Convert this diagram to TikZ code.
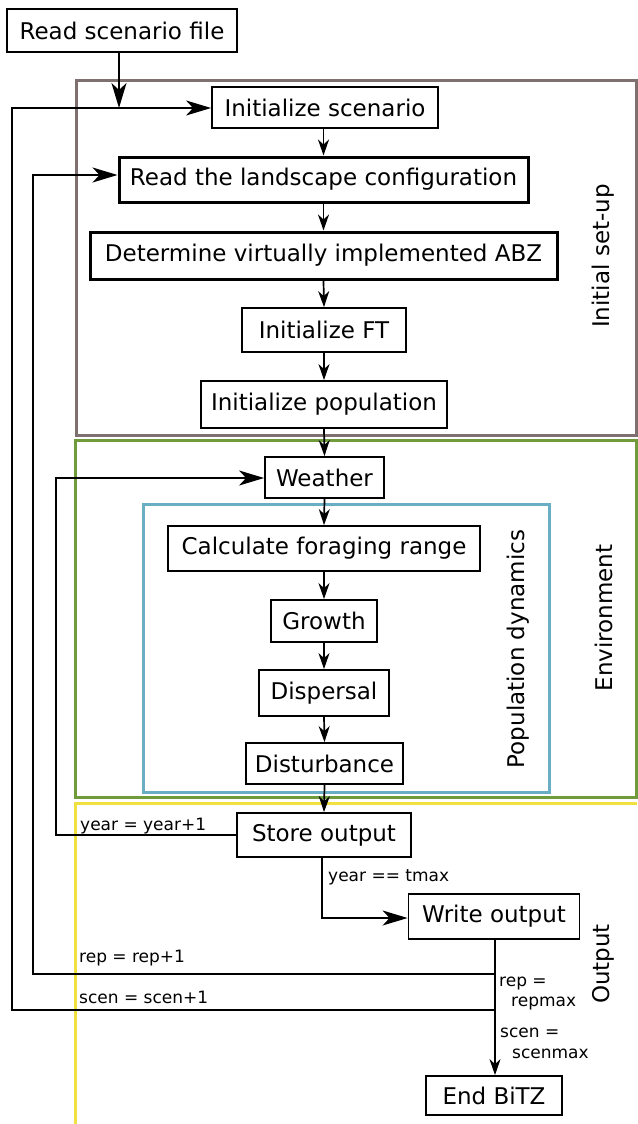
\documentclass[tikz,border=0pt]{standalone}
\usepackage{fontspec}
\setmainfont{DejaVu Sans}
\usetikzlibrary{arrows.meta,calc}
\definecolor{setupc}{HTML}{7F7070}
\definecolor{envc}{HTML}{6F9B3A}
\definecolor{outc}{HTML}{F0E040}
\definecolor{popc}{HTML}{6AAEC4}
\begin{document}
\begin{tikzpicture}[x=1pt,y=-1pt,
  stepbox/.style={draw,line width=1.8pt,inner sep=0pt,font=\fontsize{23}{27}\selectfont},
  thickbox/.style={stepbox,line width=3pt},
  region/.style={line width=3pt},
  lbl/.style={inner sep=0pt,font=\fontsize{17}{20}\selectfont},
  rlbl/.style={inner sep=0pt,rotate=90,font=\fontsize{23}{27}\selectfont},
  conn/.style={line width=1.7pt,line join=miter},
  bigarr/.style={conn,-{Stealth[length=25pt,width=15pt,inset=7pt]}},
  smallarr/.style={conn,-{Stealth[length=16pt,width=11pt,inset=5pt]}}]
\useasboundingbox (0,0) rectangle (637,1124);
\fill[white] (0,0) rectangle (637,1124);
% regions
\draw[region,setupc] (76,80) rectangle (636,435);
\draw[region,envc] (75,440) rectangle (636,797);
\draw[region,outc] (637,803) -- (75,803) -- (75,1130);
\draw[region,popc] (143,504) rectangle (549,792);
% region labels
\node[rlbl] (lsetup) at (603,256) {Initial set-up};
\node[rlbl] (lpop) at (518,649) {Population dynamics};
\node[rlbl] (lenv) at (604,618) {Environment};
\node[rlbl] (lout) at (603,964) {Output};
% nodes
\node[stepbox,minimum width=230pt,minimum height=43pt] (rsf) at (122,30.5) {Read scenario file};
\node[stepbox,minimum width=226pt,minimum height=41pt] (isc) at (325,107.5) {Initialize scenario};
\node[thickbox,minimum width=409pt,minimum height=45pt] (rlc) at (323.5,179.5) {Read the landscape configuration};
\node[thickbox,minimum width=467pt,minimum height=47pt] (dvi) at (323.5,255.5) {Determine virtually implemented ABZ};
\node[stepbox,minimum width=164pt,minimum height=44pt] (ift) at (324,330) {Initialize FT};
\node[stepbox,minimum width=246pt,minimum height=47pt] (ipo) at (324,404.5) {Initialize population};
\node[stepbox,minimum width=119pt,minimum height=41pt] (wea) at (324.5,477.5) {Weather};
\node[stepbox,minimum width=312pt,minimum height=45pt] (cfr) at (324,548.5) {Calculate foraging range};
\node[stepbox,minimum width=106pt,minimum height=42pt] (gro) at (324,621) {Growth};
\node[stepbox,minimum width=130pt,minimum height=46pt] (dis) at (324,693) {Dispersal};
\node[stepbox,minimum width=157pt,minimum height=41pt] (dst) at (324.5,763.5) {Disturbance};
\node[stepbox,minimum width=174pt,minimum height=44pt] (sto) at (324,835) {Store output};
\node[stepbox,minimum width=171pt,minimum height=45pt] (wro) at (494,916.5) {Write output};
\node[stepbox,minimum width=136pt,minimum height=39pt] (end) at (494,1095.5) {End BiTZ};
% labels
\node[lbl,anchor=base west] (tyear) at (80,830) {year = year+1};
\node[lbl,anchor=base west] (ttmax) at (328,881) {year == tmax};
\node[lbl,anchor=base west] (trep) at (79,962) {rep = rep+1};
\node[lbl,anchor=base west] (tscen) at (79,1003) {scen = scen+1};
\node[lbl,anchor=base west] (trepa) at (499,986) {rep =};
\node[lbl,anchor=base west] (trepb) at (511,1006) {repmax};
\node[lbl,anchor=base west] (tscena) at (500,1037) {scen =};
\node[lbl,anchor=base west] (tscenb) at (512,1058) {scenmax};
% coordinates
\coordinate (j1) at (119,108);
\coordinate (sl) at (12,108);
\coordinate (sb) at (12,1010);
\coordinate (sr) at (495,1010);
\coordinate (rl) at (33,175);
\coordinate (rb) at (33,974);
\coordinate (rr) at (495,974);
\coordinate (yl) at (56,478);
\coordinate (yb) at (56,835);
\coordinate (st) at (322,857);
\coordinate (wc) at (322,918);
% connectors
\draw[bigarr] (rsf.south -| j1) -- (j1);
\draw[bigarr] (sr) -- (sb) -- (sl) -- (isc.west |- sl);
\draw[bigarr] (rr) -- (rb) -- (rl) -- (rlc.west |- rl);
\draw[bigarr] (sto.west |- yb) -- (yb) -- (yl) -- (wea.west |- yl);
\draw[bigarr] (st) -- (wc) -- (wro.west |- wc);
\draw[smallarr] (wro.south -| sr) -- (end.north -| sr);
\draw[smallarr] (isc.south -| rlc.north) -- (rlc.north);
\draw[smallarr] (rlc.south) -- (dvi.north);
\draw[smallarr] (dvi.south) -- (ift.north);
\draw[smallarr] (ift.south) -- (ipo.north);
\draw[smallarr] (ipo.south) -- (wea.north);
\draw[smallarr] (wea.south) -- (cfr.north);
\draw[smallarr] (cfr.south) -- (gro.north);
\draw[smallarr] (gro.south) -- (dis.north);
\draw[smallarr] (dis.south) -- (dst.north);
\draw[smallarr] (dst.south) -- (sto.north);
\end{tikzpicture}
\end{document}
